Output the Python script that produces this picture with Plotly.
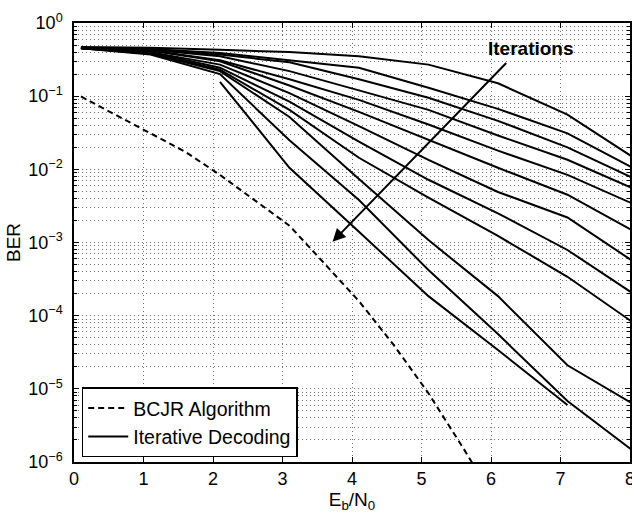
import plotly.graph_objects as go

# ---- data ----
ebn0 = [0.1, 1.1, 2.1, 3.1, 4.1, 5.1, 6.1, 7.1, 8.1]

iter_01 = [0.47, 0.46, 0.43, 0.40, 0.35, 0.27, 0.15, 0.056, 0.0135]
iter_02 = [0.46, 0.44, 0.39, 0.31, 0.245, 0.13, 0.067, 0.031, 0.0098]
iter_03 = [0.46, 0.43, 0.37, 0.29, 0.17, 0.095, 0.046, 0.020, 0.0072]
iter_04 = [0.46, 0.43, 0.35, 0.22, 0.12, 0.065, 0.029, 0.0135, 0.0052]
iter_05 = [0.46, 0.42, 0.31, 0.17, 0.089, 0.041, 0.018, 0.0084, 0.0032]
iter_06 = [0.46, 0.42, 0.30, 0.14, 0.061, 0.025, 0.0105, 0.0045, 0.00135]
iter_07 = [0.46, 0.40, 0.27, 0.11, 0.039, 0.0135, 0.0049, 0.0022, 0.00051]
iter_08 = [0.45, 0.40, 0.245, 0.084, 0.024, 0.0072, 0.0025, 0.00079, 0.000185]
iter_09 = [0.45, 0.39, 0.23, 0.065, 0.0144, 0.0041, 0.00123, 0.00034, 0.000074]
iter_10 = [0.45, 0.38, 0.22, 0.052, 0.0074, 0.00108, 0.000185, 0.000021, 0.0000058]
iter_11 = [0.45, 0.37, 0.20, 0.025, 0.0038, 0.00042, 0.000056, 0.0000068, 0.0000013]
iter_12 = [None, None, 0.157, 0.0105, 0.0014, 0.000185, 0.000034, 0.0000060, None]

iterative_curves = [iter_01, iter_02, iter_03, iter_04, iter_05, iter_06,
                    iter_07, iter_08, iter_09, iter_10, iter_11, iter_12]

bcjr_ebn0 = [0.1, 0.6, 1.1, 1.6, 2.1, 2.6, 3.1, 3.6, 4.1, 4.6, 5.1, 5.6, 6.1]
bcjr_ber = [0.099, 0.0556, 0.0316, 0.0174, 0.0084, 0.0038, 0.0017, 0.00052,
            0.000158, 0.0000398, 0.0000087, 0.00000155, 0.00000026]

x_ticks = [0, 1, 2, 3, 4, 5, 6, 7, 8]
y_tickvals = [1e-6, 1e-5, 1e-4, 1e-3, 1e-2, 1e-1, 1]
y_ticktext = ["10<sup>\u22126</sup>", "10<sup>\u22125</sup>", "10<sup>\u22124</sup>",
              "10<sup>\u22123</sup>", "10<sup>\u22122</sup>", "10<sup>\u22121</sup>",
              "10<sup>0</sup>"]

FONT = "Liberation Sans, Arial, Helvetica, sans-serif"

fig = go.Figure()

fig.add_trace(go.Scatter(
    x=bcjr_ebn0, y=bcjr_ber, mode="lines", name="BCJR Algorithm",
    line=dict(color="black", width=2, dash="6px,4px"),
))

for i, curve in enumerate(iterative_curves):
    fig.add_trace(go.Scatter(
        x=ebn0, y=curve, mode="lines", name="Iterative Decoding",
        line=dict(color="black", width=2),
        showlegend=(i == 0), legendgroup="iter", connectgaps=False,
    ))

grid_dash = "1px,3px"
grid_col = "#707070"

fig.update_layout(
    template="none",
    width=632, height=515,
    margin=dict(l=74, r=2, t=23, b=53, autoexpand=False),
    paper_bgcolor="white", plot_bgcolor="white",
    font=dict(family=FONT, size=18, color="black"),
    showlegend=True,
    legend=dict(
        x=0.0139, y=0.17, xanchor="left", yanchor="top",
        bgcolor="white", bordercolor="black", borderwidth=1.5,
        font=dict(family=FONT, size=19.5, color="black"),
        tracegroupgap=0, itemwidth=40,
    ),
    xaxis=dict(
        range=[0, 8], tickvals=x_ticks, ticks="inside", ticklen=5,
        tickwidth=1, tickcolor="black",
        showline=True, linecolor="black", linewidth=1.5, mirror="ticks",
        showgrid=True, gridcolor=grid_col, griddash=grid_dash, gridwidth=1,
        zeroline=False, automargin=False, ticklabeloverflow="allow",
        title=dict(text="E<sub>b</sub>/N<sub>0</sub>", standoff=0,
                   font=dict(family=FONT, size=19)),
        tickfont=dict(family=FONT, size=18),
    ),
    yaxis=dict(
        type="log", range=[-6, 0], tickvals=y_tickvals, ticktext=y_ticktext,
        ticks="inside", ticklen=5, tickwidth=1, tickcolor="black",
        showline=True, linecolor="black", linewidth=1.5, mirror="ticks",
        showgrid=True, gridcolor=grid_col, griddash=grid_dash, gridwidth=1,
        zeroline=False, automargin=False, ticklabeloverflow="allow",
        minor=dict(ticks="inside", ticklen=3, tickcolor="black", dtick="D1",
                   showgrid=True, gridcolor=grid_col, griddash=grid_dash, gridwidth=1),
        title=dict(text="BER", standoff=3, font=dict(family=FONT, size=19)),
        tickfont=dict(family=FONT, size=18),
        ticklabelstandoff=6,
    ),
)

# Arrow "Iterations"
arrow_tip = (3.72, -2.99)
arrow_tail = (6.24, -0.526)
label_pos = (6.58, -0.352)

fig.add_annotation(
    x=arrow_tip[0], y=arrow_tip[1], ax=arrow_tail[0], ay=arrow_tail[1],
    xref="x", yref="y", axref="x", ayref="y",
    text="", showarrow=True, arrowhead=2, arrowsize=1.3, arrowwidth=2,
    arrowcolor="black",
)
fig.add_annotation(
    x=label_pos[0], y=label_pos[1], xref="x", yref="y",
    text="<b>Iterations</b>", showarrow=False,
    font=dict(family=FONT, size=19, color="black"),
)

fig.write_html("out.html",
               config={"displayModeBar": False},
               post_script="document.body.style.margin='0';document.body.style.overflow='hidden';")
